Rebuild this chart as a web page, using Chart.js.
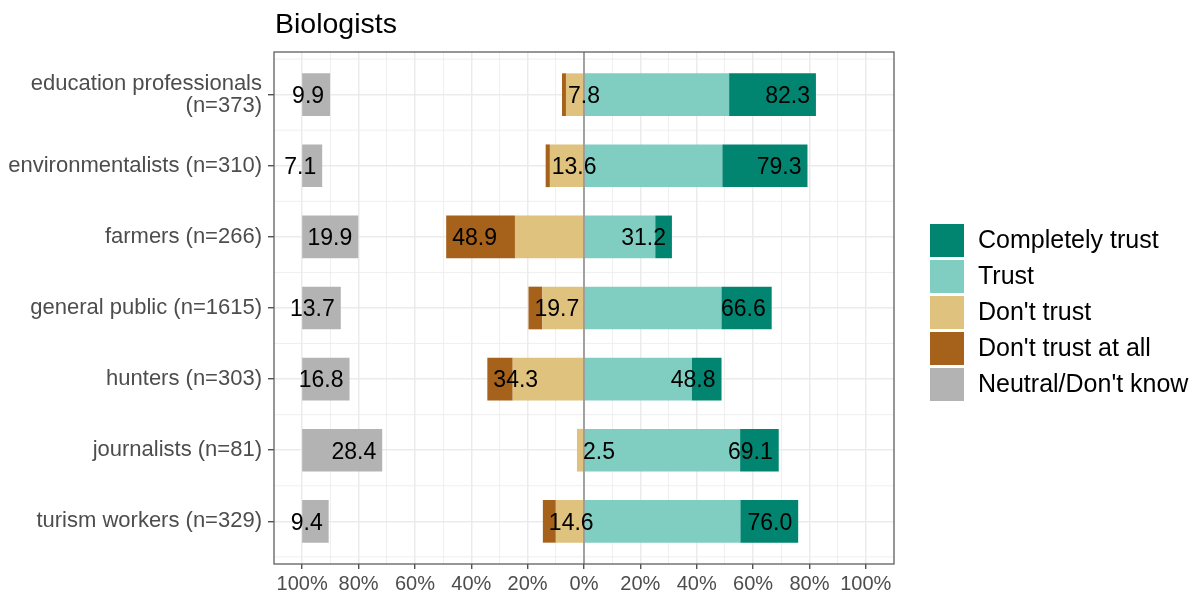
<!DOCTYPE html>
<html>
<head>
<meta charset="utf-8">
<script src="https://cdn.jsdelivr.net/npm/chart.js@4.4.1/dist/chart.umd.min.js"></script>
<style>
  html, body { margin: 0; padding: 0; background: #ffffff; }
  #wrap { width: 1196px; height: 594px; }
</style>
</head>
<body>
<div id="wrap"><canvas id="c" width="1196" height="594"></canvas></div>
<script>
const chartTitle = "Biologists";
const categories = [
  ["education professionals", "(n=373)"],
  "environmentalists (n=310)",
  "farmers (n=266)",
  "general public (n=1615)",
  "hunters (n=303)",
  "journalists (n=81)",
  "turism workers (n=329)"
];
const seriesNames = ["Completely trust", "Trust", "Don't trust", "Don't trust at all", "Neutral/Don't know"];
const completelyTrust = [30.8, 30.2, 5.9, 17.8, 10.5, 13.7, 20.5];
const trust           = [51.5, 49.1, 25.3, 48.8, 38.3, 55.4, 55.5];
const dontTrust       = [6.4, 12.1, 24.5, 14.8, 25.3, 2.5, 10.0];
const dontTrustAtAll  = [1.4, 1.5, 24.4, 4.9, 9.0, 0.0, 4.6];
const neutral         = [9.9, 7.1, 19.9, 13.7, 16.8, 28.4, 9.4];
const xTickValues = [-100, -90, -80, -70, -60, -50, -40, -30, -20, -10, 0, 10, 20, 30, 40, 50, 60, 70, 80, 90, 100];

const colors = ["#018571", "#80CDC1", "#DFC27D", "#A6611A", "#B3B3B3"];
const FONT = "'Liberation Sans', Arial, Helvetica, sans-serif";

const positiveTotal = trust.map((v, i) => v + completelyTrust[i]);
const negativeTotal = dontTrust.map((v, i) => v + dontTrustAtAll[i]);

function floatData(fn) {
  return categories.map((c, i) => ({ y: i, x: fn(i) }));
}

const datasets = [
  { label: seriesNames[0], data: floatData(i => [trust[i], trust[i] + completelyTrust[i]]) },
  { label: seriesNames[1], data: floatData(i => [0, trust[i]]) },
  { label: seriesNames[2], data: floatData(i => [-dontTrust[i], 0]) },
  { label: seriesNames[3], data: floatData(i => [-(dontTrust[i] + dontTrustAtAll[i]), -dontTrust[i]]) },
  { label: seriesNames[4], data: floatData(i => [-100, -100 + neutral[i]]) }
].map((d, k) => Object.assign(d, {
  backgroundColor: colors[k],
  borderWidth: 0,
  stack: "all",
  barPercentage: 0.6,
  categoryPercentage: 1.0
}));

const decorPlugin = {
  id: "decor",
  beforeDatasetsDraw(chart) {
    const { ctx, chartArea: a, scales: { y } } = chart;
    ctx.save();
    ctx.strokeStyle = "#EBEBEB";
    ctx.lineWidth = 0.8;
    for (let i = -0.5; i <= categories.length - 0.5; i += 1) {
      const py = y.getPixelForValue(i);
      if (py < a.top || py > a.bottom) continue;
      ctx.beginPath();
      ctx.moveTo(a.left, py);
      ctx.lineTo(a.right, py);
      ctx.stroke();
    }
    ctx.restore();
  },
  afterDatasetsDraw(chart) {
    const { ctx, chartArea: a, scales: { x, y } } = chart;
    ctx.save();
    // zero line
    const x0 = x.getPixelForValue(0);
    ctx.strokeStyle = "#808080";
    ctx.lineWidth = 1.4;
    ctx.beginPath();
    ctx.moveTo(x0, a.top);
    ctx.lineTo(x0, a.bottom);
    ctx.stroke();

    // value labels
    ctx.fillStyle = "#000000";
    ctx.font = "23px " + FONT;
    ctx.textBaseline = "middle";
    const pad = 6;
    categories.forEach((c, i) => {
      const py = y.getPixelForValue(i) + 2;
      ctx.textAlign = "right";
      ctx.fillText(positiveTotal[i].toFixed(1), x.getPixelForValue(positiveTotal[i]) - pad, py);
      ctx.fillText(neutral[i].toFixed(1), x.getPixelForValue(-100 + neutral[i]) - pad, py);
      ctx.textAlign = "left";
      ctx.fillText(negativeTotal[i].toFixed(1), x.getPixelForValue(-negativeTotal[i]) + pad, py);
    });

    // panel border
    ctx.strokeStyle = "#5f5f5f";
    ctx.lineWidth = 1.3;
    ctx.strokeRect(a.left, a.top, a.right - a.left, a.bottom - a.top);
    ctx.restore();
  },
  afterDraw(chart) {
    const { ctx, chartArea: a } = chart;
    ctx.save();
    // title
    ctx.fillStyle = "#000000";
    ctx.font = "28.5px " + FONT;
    ctx.textAlign = "left";
    ctx.textBaseline = "alphabetic";
    ctx.fillText(chartTitle, a.left + 1, 33);

    // legend
    const lx = a.right + 36;
    const ly = 224;
    const step = 36;
    ctx.font = "25px " + FONT;
    ctx.textBaseline = "middle";
    chart.data.datasets.forEach((ds, k) => {
      const top = ly + k * step;
      ctx.fillStyle = ds.backgroundColor;
      ctx.fillRect(lx, top, 34, 33);
      ctx.fillStyle = "#000000";
      ctx.fillText(ds.label, lx + 48, top + 17.5);
    });
    ctx.restore();
  }
};

new Chart(document.getElementById("c"), {
  type: "bar",
  data: { datasets },
  options: {
    indexAxis: "y",
    responsive: false,
    animation: false,
    devicePixelRatio: 1,
    layout: { padding: { top: 52, right: 302, bottom: 0, left: 0 } },
    plugins: { legend: { display: false }, title: { display: false }, tooltip: { enabled: false } },
    scales: {
      x: {
        type: "linear",
        stacked: false,
        offset: false,
        min: -110,
        max: 110,
        afterBuildTicks: (s) => { s.ticks = xTickValues.map(v => ({ value: v })); },
        afterFit: (s) => { s.height = 30; },
        border: { display: false },
        grid: {
          offset: false,
          color: "#EBEBEB",
          lineWidth: (c) => (c.tick && c.tick.value % 20 === 0 ? 1.5 : 0.8),
          tickColor: (c) => (c.tick && c.tick.value % 20 === 0 ? "#333333" : "rgba(0,0,0,0)"),
          tickWidth: 1.2,
          tickLength: 5,
          drawTicks: true
        },
        ticks: {
          autoSkip: false,
          maxRotation: 0,
          padding: 3,
          color: "#4D4D4D",
          font: { family: FONT, size: 20 },
          callback: (v) => (v % 20 === 0 ? Math.abs(v) + "%" : "")
        }
      },
      y: {
        type: "linear",
        stacked: true,
        offset: false,
        reverse: true,
        min: -0.6,
        max: categories.length - 0.4,
        afterBuildTicks: (s) => { s.ticks = categories.map((c, i) => ({ value: i })); },
        afterFit: (s) => { s.width = 274; },
        border: { display: false },
        grid: {
          offset: false,
          color: "#EBEBEB",
          lineWidth: 1.5,
          tickColor: "#333333",
          tickWidth: 1.2,
          tickLength: 6,
          drawTicks: true
        },
        ticks: {
          autoSkip: false,
          padding: 6,
          color: "#4D4D4D",
          font: { family: FONT, size: 22, lineHeight: 1.0 },
          callback: (v) => categories[Math.round(v)]
        }
      }
    }
  },
  plugins: [decorPlugin]
});
</script>
</body>
</html>
